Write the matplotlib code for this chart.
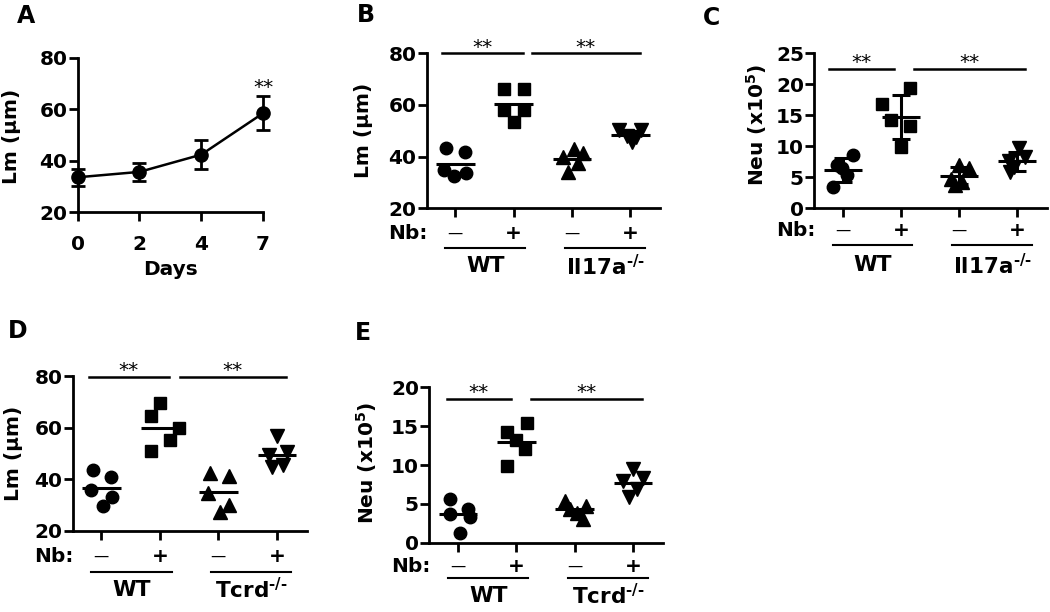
import matplotlib
matplotlib.use("Agg")
import matplotlib.pyplot as plt
import numpy as np

plt.rcParams['font.family'] = ['DejaVu Sans']
plt.rcParams['font.weight'] = 'bold'
plt.rcParams['axes.labelweight'] = 'bold'
plt.rcParams['mathtext.fontset'] = 'custom'
plt.rcParams['mathtext.rm'] = 'DejaVu Sans:bold'
plt.rcParams['mathtext.bf'] = 'DejaVu Sans:bold'
plt.rcParams['mathtext.it'] = 'DejaVu Sans:bold'
plt.rcParams['mathtext.default'] = 'rm'

# ---- data ----
# panel A: Lm over days after infection (mean +/- error)
days = ['0', '2', '4', '7']
lm_mean_a = [33.5, 35.6, 42.3, 58.4]
lm_err_a = [3.4, 3.5, 5.7, 6.6]

nb_labels = ['\u2014', '+', '\u2014', '+']

# panel B: Lm, WT vs Il17a-/-  (groups: WT-, WT+, KO-, KO+)
b_vals = [[43.2, 41.9, 34.8, 32.5, 33.5],
          [66.1, 66.1, 58.1, 58.1, 53.5],
          [42.8, 41.3, 40.0, 37.7, 34.2],
          [50.5, 50.5, 48.0, 45.5, 47.5]]
b_jit = [[-0.16, 0.17, -0.19, -0.02, 0.18],
         [-0.16, 0.17, -0.16, 0.17, 0.0],
         [0.03, 0.19, -0.15, 0.11, -0.06],
         [-0.19, 0.19, -0.06, 0.03, 0.09]]

# panel C: Neu (x10^5), WT vs Il17a-/-
c_vals = [[8.6, 3.5, 7.0, 5.3, 6.5],
          [19.4, 16.9, 14.2, 13.2, 9.9],
          [7.0, 6.45, 4.8, 4.3, 3.8],
          [9.8, 7.6, 8.2, 6.6, 5.8]]
c_jit = [[0.17, -0.16, -0.1, 0.07, -0.02],
         [0.16, -0.33, -0.17, 0.16, 0.0],
         [0.0, 0.17, -0.14, 0.06, -0.06],
         [0.03, -0.14, 0.14, -0.06, -0.12]]

# panel D: Lm, WT vs Tcrd-/-
d_vals = [[43.5, 40.9, 35.8, 33.0, 29.6],
          [69.4, 64.5, 59.7, 55.2, 51.0],
          [42.3, 41.2, 34.5, 30.0, 27.4],
          [56.7, 49.4, 50.6, 44.8, 45.5]]
d_jit = [[-0.14, 0.17, -0.17, 0.19, 0.02],
         [0.0, -0.16, 0.33, 0.17, -0.16],
         [-0.14, 0.18, -0.17, 0.18, 0.02],
         [0.0, -0.14, 0.18, -0.09, 0.1]]

# panel E: Neu (x10^5), WT vs Tcrd-/-
e_vals = [[5.6, 3.7, 4.4, 3.3, 1.3],
          [15.4, 14.3, 13.2, 12.1, 9.9],
          [5.4, 4.7, 4.4, 3.8, 3.1],
          [9.5, 7.9, 8.3, 6.9, 5.9]]
e_jit = [[-0.13, -0.14, 0.18, 0.2, 0.03],
         [0.18, -0.16, 0.0, 0.15, -0.16],
         [-0.17, 0.2, -0.09, 0.03, 0.14],
         [0.0, -0.17, 0.17, 0.06, -0.07]]

markers = ['o', 's', '^', 'v']
msizes = [9, 9, 10, 10]

FS = 14.5

fig = plt.figure(figsize=(10.5, 6.12), dpi=100)


def style_axes(ax):
    for s in ['top', 'right']:
        ax.spines[s].set_visible(False)
    for s in ['left', 'bottom']:
        ax.spines[s].set_linewidth(2)
    ax.tick_params(width=2, length=6.5, labelsize=FS, pad=1)


def bold_ticks(ax):
    for lbl in ax.get_xticklabels() + ax.get_yticklabels():
        lbl.set_fontweight('bold')


def px(ax, d, axis='y'):
    # convert a pixel distance to axes fraction
    if axis == 'y':
        return d / ax.bbox.height
    return d / ax.bbox.width


def scatter_panel(ax, vals, jit, ylim, yticks, ylabel, lab_pos, sig_y, sig_spans,
                  star_off, ko_name, rows, sd=False):
    style_axes(ax)
    for i, (v, j) in enumerate(zip(vals, jit)):
        x = i + np.array(j)
        ax.plot(x, v, ls='none', marker=markers[i], ms=msizes[i], color='k',
                clip_on=False, zorder=3)
        m = np.mean(v)
        ax.hlines(m, i - 0.33, i + 0.33, color='k', lw=2.2, zorder=4)
        if sd:
            ax.errorbar(i, m, yerr=np.std(v, ddof=1), fmt='none', ecolor='k',
                        elinewidth=2.2, capsize=6.5, capthick=2.2, zorder=4)
    ax.set_xlim(-0.49, 3.51)
    ax.set_ylim(*ylim)
    ax.set_yticks(yticks)
    ax.set_xticks(range(4))
    ax.set_xticklabels([])
    bold_ticks(ax)
    ax.set_ylabel(ylabel, fontsize=FS, va='center')
    ax.yaxis.set_label_coords(px(ax, lab_pos[0], 'x'), lab_pos[1])

    for (x0, x1) in sig_spans:
        ax.plot([x0, x1], [sig_y, sig_y], color='k', lw=1.8, clip_on=False)
        ax.annotate('**', ((x0 + x1) / 2, sig_y), xytext=(0, star_off),
                    textcoords='offset points', ha='center', va='baseline',
                    fontsize=FS, fontweight='normal')

    tr = ax.get_xaxis_transform()
    y_nb, y_ul, y_grp = [-px(ax, r) for r in rows]
    ax.text(0.005, y_nb, 'Nb:', transform=ax.transAxes, ha='right', va='center',
            fontsize=FS)
    for i, s in enumerate(nb_labels):
        if s == '+':
            ax.text(i, y_nb, s, transform=tr, ha='center', va='center',
                    fontsize=FS, fontweight='bold')
        else:
            ax.text(i, y_nb, s, transform=tr, ha='center', va='center',
                    fontsize=11, fontweight='normal')
    for (x0, x1) in [(-0.17, 1.2), (1.88, 3.25)]:
        ax.plot([x0, x1], [y_ul, y_ul], transform=tr, color='k', lw=1.5,
                clip_on=False)
    ax.text(0.52, y_grp, 'WT', transform=tr, ha='center', va='center',
            fontsize=FS + 1)
    ax.text(2.57, y_grp, ko_name + r'$^{\text{-/-}}$', transform=tr, ha='center',
            va='center', fontsize=FS + 1)


# ---- panel A ----
axA = fig.add_axes([77.7 / 1050, 1 - 212 / 612, 185.3 / 1050, 154.3 / 612])
style_axes(axA)
xa = np.arange(len(days))
axA.errorbar(xa, lm_mean_a, yerr=lm_err_a, fmt='-o', color='k', ms=9.5, lw=1.8,
             elinewidth=2, capsize=4.7, capthick=2, clip_on=False, zorder=3)
axA.set_xlim(0, 3)
axA.set_ylim(20, 80)
axA.set_yticks([20, 40, 60, 80])
axA.set_xticks(xa)
axA.set_xticklabels(days)
bold_ticks(axA)
axA.tick_params(axis='x', pad=10)
axA.set_xlabel('Days', fontsize=FS)
axA.xaxis.set_label_coords(0.5, -0.31)
axA.set_ylabel('Lm (\u03bcm)', fontsize=FS, va='center')
axA.yaxis.set_label_coords(px(axA, -66, 'x'), 0.49)
axA.annotate('**', (3, lm_mean_a[3] + lm_err_a[3]), xytext=(0, 2),
             textcoords='offset points', ha='center', va='baseline', fontsize=FS,
             fontweight='normal')

# ---- panel B ----
axB = fig.add_axes([426.7 / 1050, 1 - 208.3 / 612, 233.3 / 1050, 155 / 612])
scatter_panel(axB, b_vals, b_jit, (20, 80), [20, 40, 60, 80], 'Lm (\u03bcm)',
              (-63.4, 0.5), 80, [(-0.22, 1.16), (1.32, 3.16)], 0, 'Il17a',
              (25, 40, 58))

# ---- panel C ----
axC = fig.add_axes([814.3 / 1050, 1 - 208.3 / 612, 232.4 / 1050, 155 / 612])
scatter_panel(axC, c_vals, c_jit, (0, 25), [0, 5, 10, 15, 20, 25],
              r'Neu (x10$^{5}$)', (-57.6, 0.54), 22.4,
              [(-0.23, 0.88), (1.23, 3.14)], 1, 'Il17a', (22, 37, 57), sd=True)

# ---- panel D ----
axD = fig.add_axes([72.7 / 1050, 1 - 530.7 / 612, 234 / 1050, 154.7 / 612])
scatter_panel(axD, d_vals, d_jit, (20, 80), [20, 40, 60, 80], 'Lm (\u03bcm)',
              (-59.4, 0.5), 79.5, [(-0.21, 1.15), (1.34, 3.16)], 1, 'Tcrd',
              (26, 41, 59))

# ---- panel E ----
axE = fig.add_axes([429.3 / 1050, 1 - 542.7 / 612, 233.7 / 1050, 155.4 / 612])
scatter_panel(axE, e_vals, e_jit, (0, 20), [0, 5, 10, 15, 20],
              r'Neu (x10$^{5}$)', (-62.6, 0.51), 18.5,
              [(-0.19, 0.9), (1.25, 3.15)], 1, 'Tcrd', (24, 35, 53))

# panel letters
for lab, x, y in [('A', 17, 23), ('B', 357, 22), ('C', 703, 25),
                  ('D', 8, 338), ('E', 355, 340)]:
    fig.text(x / 1050, 1 - y / 612, lab, fontsize=17, fontweight='bold',
             ha='left', va='baseline')

fig.savefig('out.png', dpi=100)
